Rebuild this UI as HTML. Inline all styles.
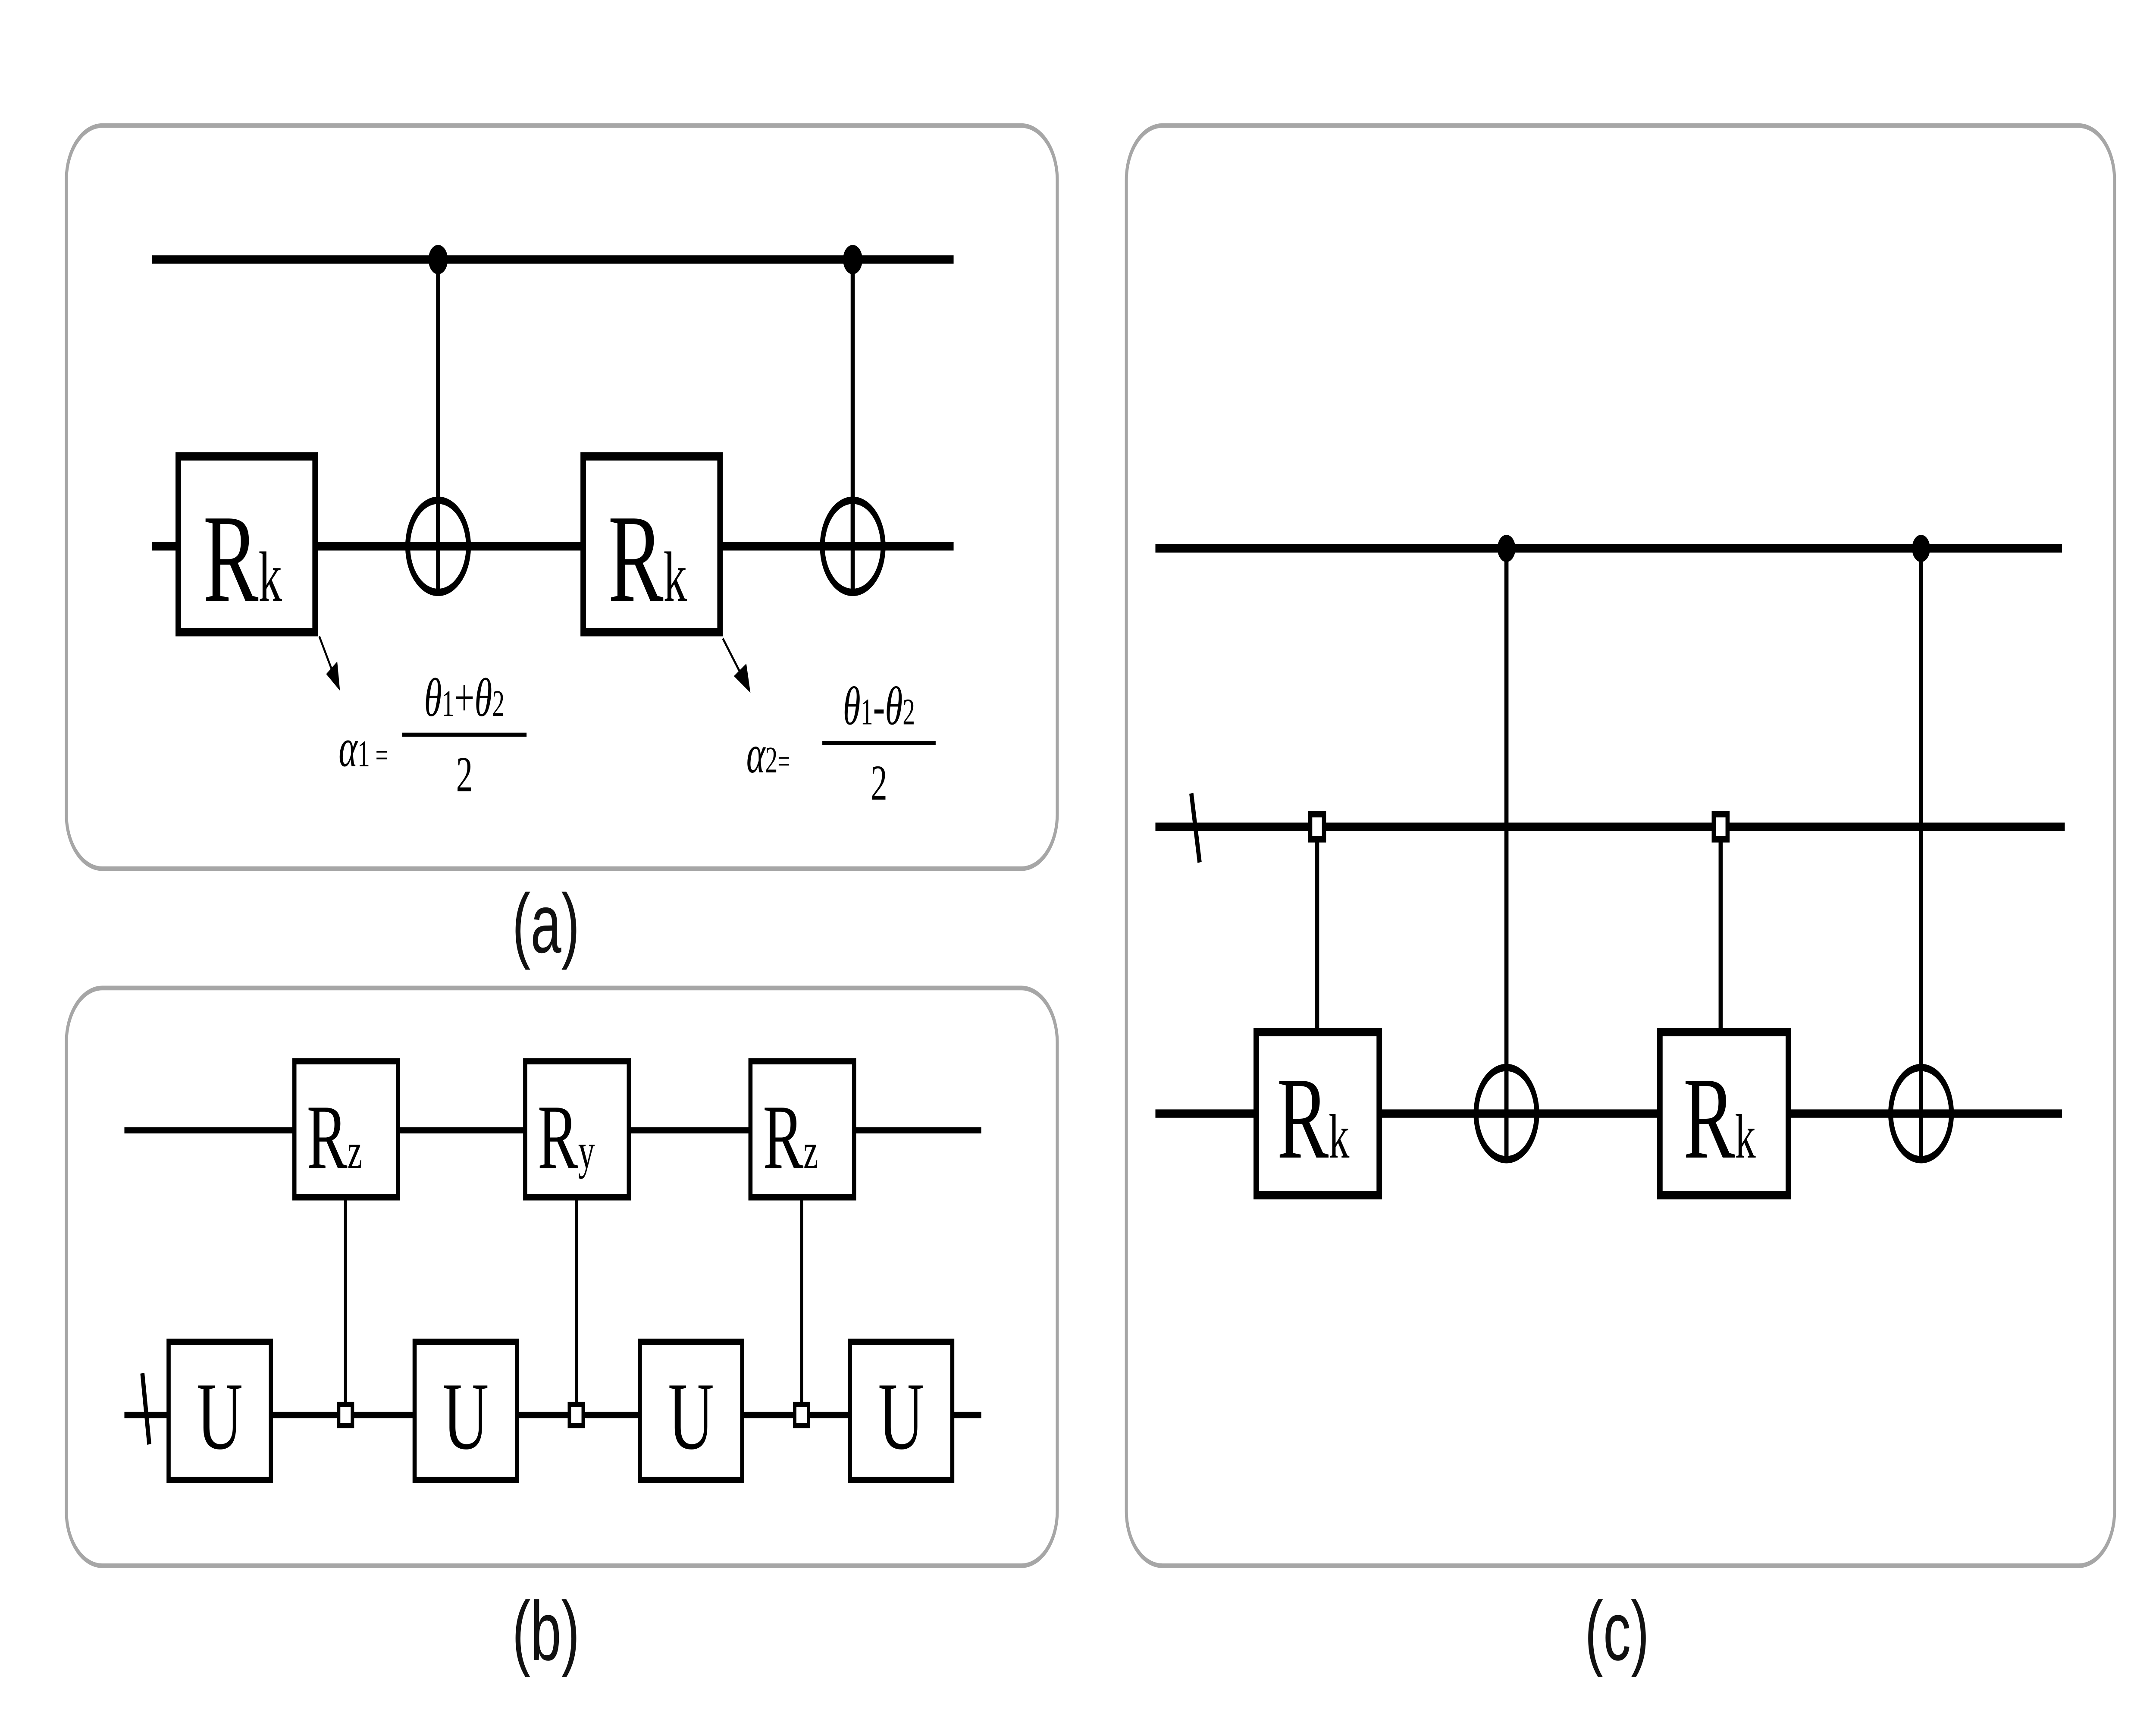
<!DOCTYPE html>
<html><head><meta charset="utf-8"><style>
html,body{margin:0;padding:0;background:#fff;width:100%;height:100%;overflow:hidden;}
svg{display:block;position:fixed;left:0;top:0;width:100vw;height:100vh;}
</style></head><body>
<svg viewBox="0 0 1560 826" preserveAspectRatio="none" xmlns="http://www.w3.org/2000/svg">
<g fill="none" stroke="#a6a6a6" stroke-width="2.2">
<rect x="48" y="60" width="717" height="355" rx="26"/>
<rect x="48" y="472" width="717" height="276" rx="26"/>
<rect x="815" y="60" width="715" height="688" rx="26"/>
</g>
<g font-family="Liberation Sans, sans-serif" font-size="40" fill="#111" text-anchor="middle">
<text x="395" y="455">(a)</text>
<text x="395" y="793">(b)</text>
<text x="1170" y="793">(c)</text>
</g>
<g stroke="#000" stroke-width="4">
<line x1="110" y1="124" x2="690" y2="124"/>
<line x1="110" y1="261" x2="690" y2="261"/>
<line x1="317" y1="124" x2="317" y2="261" stroke-width="3"/>
<line x1="617" y1="124" x2="617" y2="261" stroke-width="3"/>
<rect x="129" y="218" width="99" height="84" fill="#fff" stroke-width="4"/>
<rect x="422" y="218" width="99" height="84" fill="#fff" stroke-width="4"/>
<circle cx="317" cy="261" r="22" fill="none" stroke-width="3.5"/>
<circle cx="617" cy="261" r="22" fill="none" stroke-width="3.5"/>
<line x1="317" y1="239" x2="317" y2="283" stroke-width="3"/>
<line x1="617" y1="239" x2="617" y2="283" stroke-width="3"/>
<line x1="231" y1="304" x2="243" y2="325" stroke-width="1.3"/>
<line x1="523" y1="305" x2="540" y2="327" stroke-width="1.3"/>
</g>
<circle cx="317" cy="124" r="7" fill="#000"/>
<circle cx="617" cy="124" r="7" fill="#000"/>
<polygon points="236,322 246,330 244,316" fill="#000"/>
<polygon points="531,323 543,331 540,317" fill="#000"/>
<g font-family="Liberation Serif, serif" fill="#000">
<text x="147" y="287" font-size="60">R<tspan font-size="34">k</tspan></text>
<text x="440" y="287" font-size="60">R<tspan font-size="34">k</tspan></text>
<text x="245" y="366" font-size="26" font-style="italic">α<tspan font-size="18" font-style="normal">1</tspan><tspan font-size="16" font-style="normal"> =</tspan></text>
<line x1="291" y1="351" x2="381" y2="351" stroke="#000" stroke-width="2"/>
<text x="336" y="342" font-size="26" font-style="italic" text-anchor="middle">θ<tspan font-size="18" font-style="normal">1</tspan><tspan font-style="normal">+</tspan>θ<tspan font-size="18" font-style="normal">2</tspan></text>
<text x="336" y="378" font-size="24" text-anchor="middle">2</text>
<text x="540" y="369" font-size="26" font-style="italic">α<tspan font-size="18" font-style="normal">2</tspan><tspan font-size="16" font-style="normal">=</tspan></text>
<line x1="595" y1="355" x2="677" y2="355" stroke="#000" stroke-width="2"/>
<text x="636" y="346" font-size="26" font-style="italic" text-anchor="middle">θ<tspan font-size="18" font-style="normal">1</tspan><tspan font-style="normal">-</tspan>θ<tspan font-size="18" font-style="normal">2</tspan></text>
<text x="636" y="382" font-size="24" text-anchor="middle">2</text>
</g>
<g stroke="#000" stroke-width="3">
<line x1="90" y1="540" x2="710" y2="540"/>
<line x1="90" y1="676" x2="710" y2="676"/>
<line x1="250" y1="572" x2="250" y2="676" stroke-width="2.2"/>
<line x1="417" y1="572" x2="417" y2="676" stroke-width="2.2"/>
<line x1="580" y1="572" x2="580" y2="676" stroke-width="2.2"/>
<rect x="213" y="507" width="75" height="65" fill="#fff"/>
<rect x="380" y="507" width="75" height="65" fill="#fff"/>
<rect x="543" y="507" width="75" height="65" fill="#fff"/>
<rect x="122" y="641" width="74" height="66" fill="#fff"/>
<rect x="300" y="641" width="74" height="66" fill="#fff"/>
<rect x="463" y="641" width="74" height="66" fill="#fff"/>
<rect x="615" y="641" width="74" height="66" fill="#fff"/>
<rect x="245" y="671" width="10" height="10" fill="#fff" stroke-width="2.5"/>
<rect x="412" y="671" width="10" height="10" fill="#fff" stroke-width="2.5"/>
<rect x="575" y="671" width="10" height="10" fill="#fff" stroke-width="2.5"/>
<line x1="103" y1="656" x2="108" y2="690"/>
</g>
<g font-family="Liberation Serif, serif" fill="#000">
<text x="222" y="558" font-size="44">R<tspan font-size="24">z</tspan></text>
<text x="389" y="558" font-size="44">R<tspan font-size="24">y</tspan></text>
<text x="552" y="558" font-size="44">R<tspan font-size="24">z</tspan></text>
<text x="159" y="692" font-size="46" text-anchor="middle">U</text>
<text x="337" y="692" font-size="46" text-anchor="middle">U</text>
<text x="500" y="692" font-size="46" text-anchor="middle">U</text>
<text x="652" y="692" font-size="46" text-anchor="middle">U</text>
</g>
<g stroke="#000" stroke-width="4">
<line x1="836" y1="262" x2="1492" y2="262"/>
<line x1="836" y1="395" x2="1494" y2="395"/>
<line x1="836" y1="532" x2="1492" y2="532"/>
<line x1="1090" y1="262" x2="1090" y2="554" stroke-width="3"/>
<line x1="1390" y1="262" x2="1390" y2="554" stroke-width="3"/>
<line x1="953" y1="395" x2="953" y2="492" stroke-width="3"/>
<line x1="1245" y1="395" x2="1245" y2="492" stroke-width="3"/>
<rect x="909" y="493" width="89" height="78" fill="#fff"/>
<rect x="1201" y="493" width="93" height="78" fill="#fff"/>
<circle cx="1090" cy="532" r="22" fill="none" stroke-width="3.5"/>
<circle cx="1390" cy="532" r="22" fill="none" stroke-width="3.5"/>
<line x1="1090" y1="510" x2="1090" y2="554" stroke-width="3"/>
<line x1="1390" y1="510" x2="1390" y2="554" stroke-width="3"/>
<rect x="948" y="389" width="10" height="12" fill="#fff" stroke-width="3"/>
<rect x="1240" y="389" width="10" height="12" fill="#fff" stroke-width="3"/>
<line x1="862" y1="379" x2="868" y2="412" stroke-width="3"/>
</g>
<circle cx="1090" cy="262" r="6.5" fill="#000"/>
<circle cx="1390" cy="262" r="6.5" fill="#000"/>
<g font-family="Liberation Serif, serif" fill="#000">
<text x="924" y="553" font-size="56">R<tspan font-size="30">k</tspan></text>
<text x="1218" y="553" font-size="56">R<tspan font-size="30">k</tspan></text>
</g>
</svg>
</body></html>
